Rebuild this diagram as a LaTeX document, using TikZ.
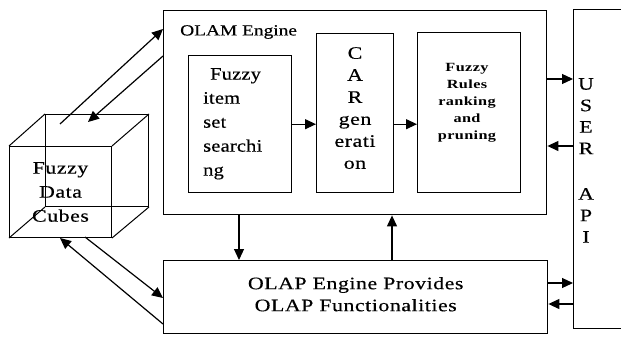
\documentclass[tikz,border=0pt]{standalone}
\usepackage{fontspec}
\setmainfont{Liberation Serif}
\newfontfamily\widefont[FakeStretch=1.25,LetterSpace=3,FakeBold=0.4]{Liberation Serif}
\newfontfamily\itemfont[FakeStretch=1.17,LetterSpace=1,FakeBold=0.4]{Liberation Serif}
\newfontfamily\labelfont[FakeStretch=1.25,FakeBold=0.4]{Liberation Serif}
\newfontfamily\rulesfont[FakeStretch=1.3,LetterSpace=3]{Liberation Serif Bold}
\usetikzlibrary{arrows.meta}
\begin{document}
\begin{tikzpicture}[x=1pt,y=-1pt,
  box/.style={draw,line width=1.4pt,inner sep=0pt,anchor=north west},
  arr/.style={line width=1.2pt,-{Triangle[length=11pt,width=10pt]}},
  cubeline/.style={line width=1pt},
  txt/.style={font=\widefont\fontsize{17.5}{24}\selectfont},
  coltxt/.style={align=center,anchor=north,inner sep=0pt},
  small/.style={font=\rulesfont\fontsize{12.5}{17}\selectfont}]
\useasboundingbox (0,0) rectangle (621,337);
% cube
\node[box,cubeline,minimum width=103pt,minimum height=92pt] (back) at (45,114) {};
\node[box,cubeline,minimum width=102pt,minimum height=91pt,txt,align=center] (cube) at (9,146) {Fuzzy\\Data\\Cubes};
\draw[cubeline] (cube.north west) -- (back.north west);
\draw[cubeline] (cube.north east) -- (back.north east);
\draw[cubeline] (cube.south west) -- (back.south west);
\draw[cubeline] (cube.south east) -- (back.south east);
% main boxes
\node[box,minimum width=383pt,minimum height=204pt] (olam) at (163,10) {};
\node[anchor=west,inner sep=0pt,font=\labelfont\fontsize{15.5}{20}\selectfont] (olamlbl) at (180,32) {OLAM Engine};
\node[box,minimum width=103pt,minimum height=137pt] (fis) at (188,55) {};
\node[anchor=north west,inner sep=0pt,align=left,font=\itemfont\fontsize{17.5}{24}\selectfont] (fistxt) at (203,68) {\hspace{7pt}Fuzzy\\item\\set\\searchi\\ng};
\node[box,minimum width=77pt,minimum height=159pt] (car) at (316,33) {};
\node[coltxt,font=\widefont\fontsize{17.5}{22}\selectfont] (cartxt) at (355,47) {C\\A\\R\\gen\\erati\\on};
\node[box,minimum width=103pt,minimum height=160pt] (rules) at (417,32) {};
\node[small,coltxt] (rulestxt) at (467,63) {Fuzzy\\Rules\\ranking\\and\\pruning};
\node[box,minimum width=70pt,minimum height=319pt] (api) at (573,9) {};
\node[coltxt,font=\widefont\fontsize{17.5}{21.5}\selectfont] (apitxt) at (586,78) {U\\S\\E\\R\\[24pt]A\\P\\I};
\node[box,minimum width=384pt,minimum height=73pt] (olap) at (163,260) {};
\node[txt,align=center,font=\widefont\fontsize{17.5}{22}\selectfont,inner sep=0pt] (olaptxt) at ([yshift=3pt]olap.center) {OLAP Engine Provides\\OLAP Functionalities};
% connectors
\draw[arr] (fis.east) -- (fis.east -| car.west);
\draw[arr] (fis.east -| car.east) -- (fis.east -| rules.west);
\coordinate (r1) at (0,79);
\coordinate (r2) at (0,146);
\coordinate (r3) at (0,283);
\coordinate (r4) at (0,304);
\draw[arr] (olam.east |- r1) -- (api.west |- r1);
\draw[arr] (api.west |- r2) -- (olam.east |- r2);
\draw[arr] (olap.east |- r3) -- (api.west |- r3);
\draw[arr] (api.west |- r4) -- (olap.east |- r4);
\coordinate (c1) at (239,0);
\coordinate (c2) at (392,0);
\draw[arr] (olam.south -| c1) -- (olap.north -| c1);
\draw[arr] (olap.north -| c2) -- (olam.south -| c2);
\coordinate (a1) at (60,124);
\coordinate (a2) at (88,122);
\coordinate (a3) at (85,237);
\coordinate (a4) at (60,238);
\draw[arr] (a1) -- (olam.west |- 0,29);
\draw[arr] (olam.west |- 0,56) -- (a2);
\draw[arr] (a3) -- (olap.west |- 0,298);
\draw[arr] (olap.west |- 0,324) -- (a4);
\end{tikzpicture}
\end{document}
